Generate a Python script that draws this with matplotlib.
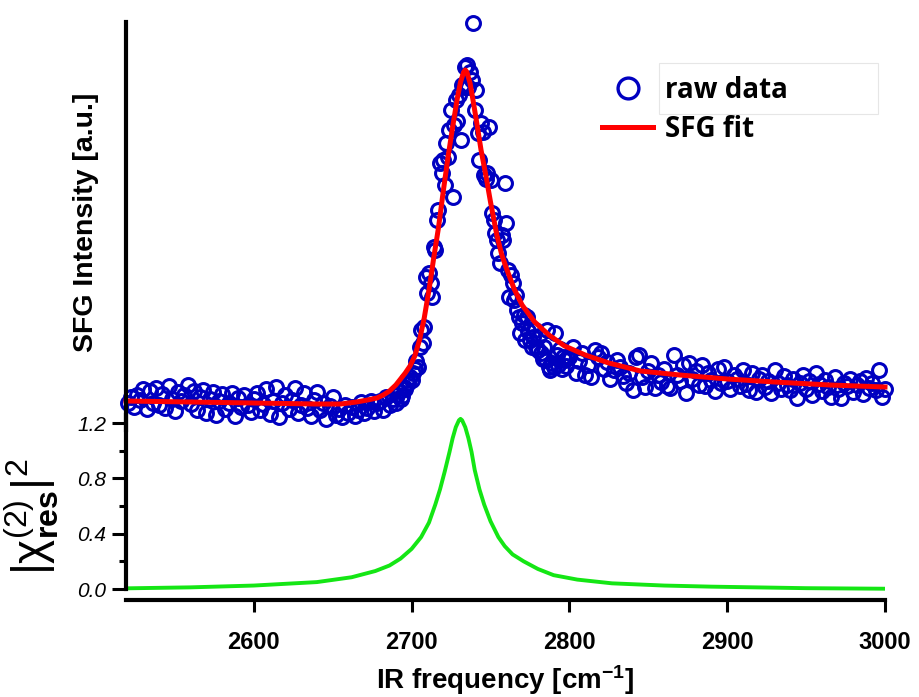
import matplotlib.pyplot as plt
import numpy as np
from matplotlib.lines import Line2D
from matplotlib.patches import Rectangle

plt.rcParams['font.family'] = ['Liberation Sans', 'DejaVu Sans']
plt.rcParams['mathtext.fontset'] = 'custom'
plt.rcParams['mathtext.rm'] = 'Liberation Sans'
plt.rcParams['mathtext.it'] = 'Liberation Sans:italic'
plt.rcParams['mathtext.bf'] = 'Liberation Sans:bold'

# raw SFG data (arb. units), sampled every 2 / 1 / 2 cm^-1
freq = np.concatenate([np.arange(2520, 2690, 2),
                       np.arange(2690, 2800, 1),
                       np.arange(2800, 3001, 2)])
raw = np.array([
    2.2, 2.8, 1.8, 3.0, 2.5, 3.6, 1.6, 3.4, 2.2, 3.7,
    2.0, 3.1, 1.7, 3.9, 2.6, 1.4, 3.3, 2.4, 3.0, 4.0,
    2.1, 3.4, 1.5, 2.8, 3.5, 1.2, 2.6, 3.3, 1.0, 2.4,
    3.1, 1.6, 2.2, 3.2, 0.9, 2.7, 1.8, 3.0, 2.0, 1.3,
    2.6, 3.2, 1.5, 2.1, 3.6, 1.1, 2.4, 3.8, 0.8, 2.2,
    3.0, 1.6, 2.5, 3.7, 1.2, 2.0, 3.2, 1.7, 0.9, 2.5,
    3.3, 1.5, 2.2, 0.6, 1.9, 2.8, 1.0, 1.6, 0.8, 2.0,
    1.2, 1.8, 0.9, 1.5, 2.3, 1.2, 1.7, 2.4, 1.4, 2.2,
    2.4, 1.5, 2.8, 2.0, 2.6,
    # 2690 - 2799, step 1
    2.2, 3.0, 3.4, 2.6, 2.9, 3.8, 3.6, 4.5, 4.2, 4.8,
    4.5, 5.2, 5.6, 6.4, 5.8, 7.8, 9.5, 8.2, 9.8, 14.8,
    13.2, 15.2, 14.2, 12.8, 17.8, 17.5, 20.5, 21.5, 26.2, 25.2,
    26.5, 24.0, 28.2, 26.8, 29.5, 31.5, 22.8, 30.0, 32.5, 30.4,
    33.0, 28.5, 34.0, 33.8, 35.8, 36.0, 33.8, 35.3, 34.5, 40.2,
    31.5, 33.5, 29.2, 26.5, 30.2, 29.3, 25.0, 24.6, 25.2, 29.8,
    24.5, 21.2, 20.5, 19.2, 18.5, 17.2, 16.2, 19.0, 18.5, 24.2,
    20.2, 15.5, 12.8, 15.0, 14.2, 12.5, 13.0, 11.5, 10.8, 9.2,
    10.2, 11.0, 8.5, 10.8, 9.4, 8.5, 7.8, 8.8, 9.5, 7.8,
    7.5, 8.9, 7.2, 6.6, 7.8, 6.5, 9.5, 5.8, 5.5, 6.2,
    5.8, 9.2, 7.0, 6.0, 7.6, 5.6, 6.8, 6.5, 5.9, 6.8,
    # 2800 - 3000, step 2
    6.8, 7.8, 5.2, 6.4, 7.2, 5.0, 6.0, 4.8, 7.5, 6.8,
    7.2, 5.6, 6.3, 4.6, 5.5, 6.5, 5.8, 4.9, 4.2, 5.2,
    3.5, 6.8, 7.0, 4.8, 3.8, 5.4, 6.2, 3.7, 5.0, 4.3,
    5.6, 3.9, 3.7, 7.0, 5.0, 4.4, 6.0, 3.2, 6.2, 4.6,
    5.4, 4.0, 6.0, 3.9, 5.2, 4.5, 3.4, 5.6, 4.2, 5.8,
    4.4, 3.6, 5.0, 4.6, 3.9, 5.5, 4.1, 3.5, 5.2, 3.3,
    4.6, 5.0, 3.8, 4.4, 3.2, 5.5, 4.2, 3.6, 4.9, 4.0,
    3.5, 4.6, 2.7, 4.2, 5.0, 3.6, 4.4, 3.0, 5.2, 4.1,
    3.4, 4.5, 3.8, 2.8, 4.8, 3.6, 2.7, 4.2, 3.9, 4.6,
    3.3, 4.0, 4.4, 3.1, 4.7, 3.7, 4.2, 3.5, 5.5, 2.8,
    3.6])

# SFG fit curve
fit_freq = [2519, 2560, 2600, 2640, 2655, 2665, 2672, 2678, 2682, 2686,
            2690, 2693, 2696, 2699, 2702, 2705, 2708, 2711, 2714, 2717,
            2720, 2723, 2726, 2729, 2731, 2733, 2734, 2735, 2737, 2739,
            2741, 2744, 2747, 2750, 2754, 2757, 2760, 2765, 2770, 2778,
            2787, 2797, 2810, 2825, 2845, 2870, 2900, 2930, 2965, 3000]
fit_val = [2.4, 2.3, 2.2, 2.1, 2.1, 2.3, 2.5, 2.7, 3.0, 3.4,
           4.0, 4.6, 5.2, 5.9, 6.9, 8.5, 10.7, 13.5, 16.7, 19.7,
           23.3, 26.7, 29.8, 32.7, 34.3, 35.3, 35.5, 35.3, 34.2, 32.4,
           30.5, 27.5, 25.0, 22.3, 19.0, 17.1, 15.7, 13.6, 12.0, 10.3,
           9.0, 7.9, 7.0, 6.2, 5.4, 5.0, 4.6, 4.3, 4.0, 3.8]

# |chi(2)_res|^2
res_freq = [2520, 2560, 2600, 2640, 2662, 2677, 2686, 2693, 2700, 2706,
            2711, 2715, 2718, 2721, 2724, 2726, 2728, 2730, 2731, 2732,
            2734, 2736, 2738, 2740, 2743, 2746, 2750, 2755, 2759, 2764,
            2771, 2780, 2790, 2805, 2827, 2860, 2890, 2950, 3000]
res_val = [0.005, 0.012, 0.025, 0.05, 0.085, 0.13, 0.17, 0.22, 0.29, 0.375,
           0.48, 0.61, 0.72, 0.85, 0.99, 1.09, 1.17, 1.22, 1.23, 1.22,
           1.17, 1.09, 0.99, 0.86, 0.72, 0.61, 0.49, 0.375, 0.31, 0.25,
           0.20, 0.145, 0.10, 0.068, 0.041, 0.025, 0.017, 0.006, 0.002]

xticks = [2600, 2700, 2800, 2900, 3000]
yticks = [0.0, 0.4, 0.8, 1.2]

W, H = 920, 697
fig = plt.figure(figsize=(9.2, 6.97), dpi=100)
ax2 = fig.add_axes([126 / W, 1 - 600 / H, 759 / W, 185 / H])
ax1 = fig.add_axes([126 / W, 1 - 430 / H, 759 / W, 408 / H])
for a in (ax1, ax2):
    a.patch.set_alpha(0)
    a.spines['top'].set_visible(False)
    a.spines['right'].set_visible(False)
    a.spines['left'].set_linewidth(3)
    a.set_xlim(2519, 3000)

# top panel
ax1.plot(freq, raw, 'o', mfc='none', mec='#0000c0', ms=10, mew=2.2, clip_on=False)
ax1.plot(fit_freq, fit_val, '-', color='#ff0000', lw=3.6, clip_on=False)
ax1.set_ylim(-0.5, 40.3)
ax1.spines['bottom'].set_visible(False)
ax1.set_xticks([])
ax1.set_yticks([])
ax1.set_ylabel('SFG Intensity [a.u.]', fontsize=20.5, fontweight='bold')
ax1.yaxis.set_label_coords(-0.036, 0.51)

# bottom panel
ax2.plot(res_freq, res_val, '-', color='#14e614', lw=2.8)
ax2.set_ylim(-0.0795, 1.258)
ax2.spines['left'].set_bounds(0, 1.258)
ax2.spines['bottom'].set_linewidth(3)
ax2.set_xticks(xticks)
ax2.set_xticklabels([str(t) for t in xticks], fontsize=17, fontweight='bold')
ax2.set_yticks(yticks)
ax2.set_yticklabels(['%.1f' % t for t in yticks], fontsize=15, style='italic')
ax2.set_yticks([0.2, 0.6, 1.0], minor=True)
ax2.tick_params(axis='x', direction='out', length=8.5, width=2.2, pad=14)
ax2.tick_params(axis='y', which='major', direction='out', length=10, width=2.2, pad=4)
ax2.tick_params(axis='y', which='minor', direction='out', length=5, width=2.2)
ax2.set_xlabel(r'IR frequency [cm$^{\mathbf{-1}}$]', fontsize=20, fontweight='bold')
ax2.xaxis.set_label_coords(0.5, -0.34)
ax2.set_ylabel(r'$|\mathrm{\chi}^{(2)}_{\mathbf{res}}|^{2}$', fontsize=33)
ax2.yaxis.set_label_coords(-0.086, 0.45)

# legend
handles = [Line2D([], [], ls='none', marker='o', mfc='none', mec='#0000c0', ms=15, mew=2.4),
           Line2D([], [], color='#ff0000', lw=3.6)]
fig.legend(handles, ['raw data', 'SFG fit'], loc='upper left',
           bbox_to_anchor=(602 / W, 1 - 76 / H), frameon=False,
           prop=dict(family='Open Sans', weight='bold', size=20),
           handlelength=1.85, handletextpad=0.42, labelspacing=0.35,
           borderaxespad=0, borderpad=0)
fig.patches.append(Rectangle((659 / W, 1 - 114 / H), 219 / W, 51 / H,
                             transform=fig.transFigure, fill=False,
                             ec='#e6e6e6', lw=0.8))

fig.savefig('out.png', dpi=100)
